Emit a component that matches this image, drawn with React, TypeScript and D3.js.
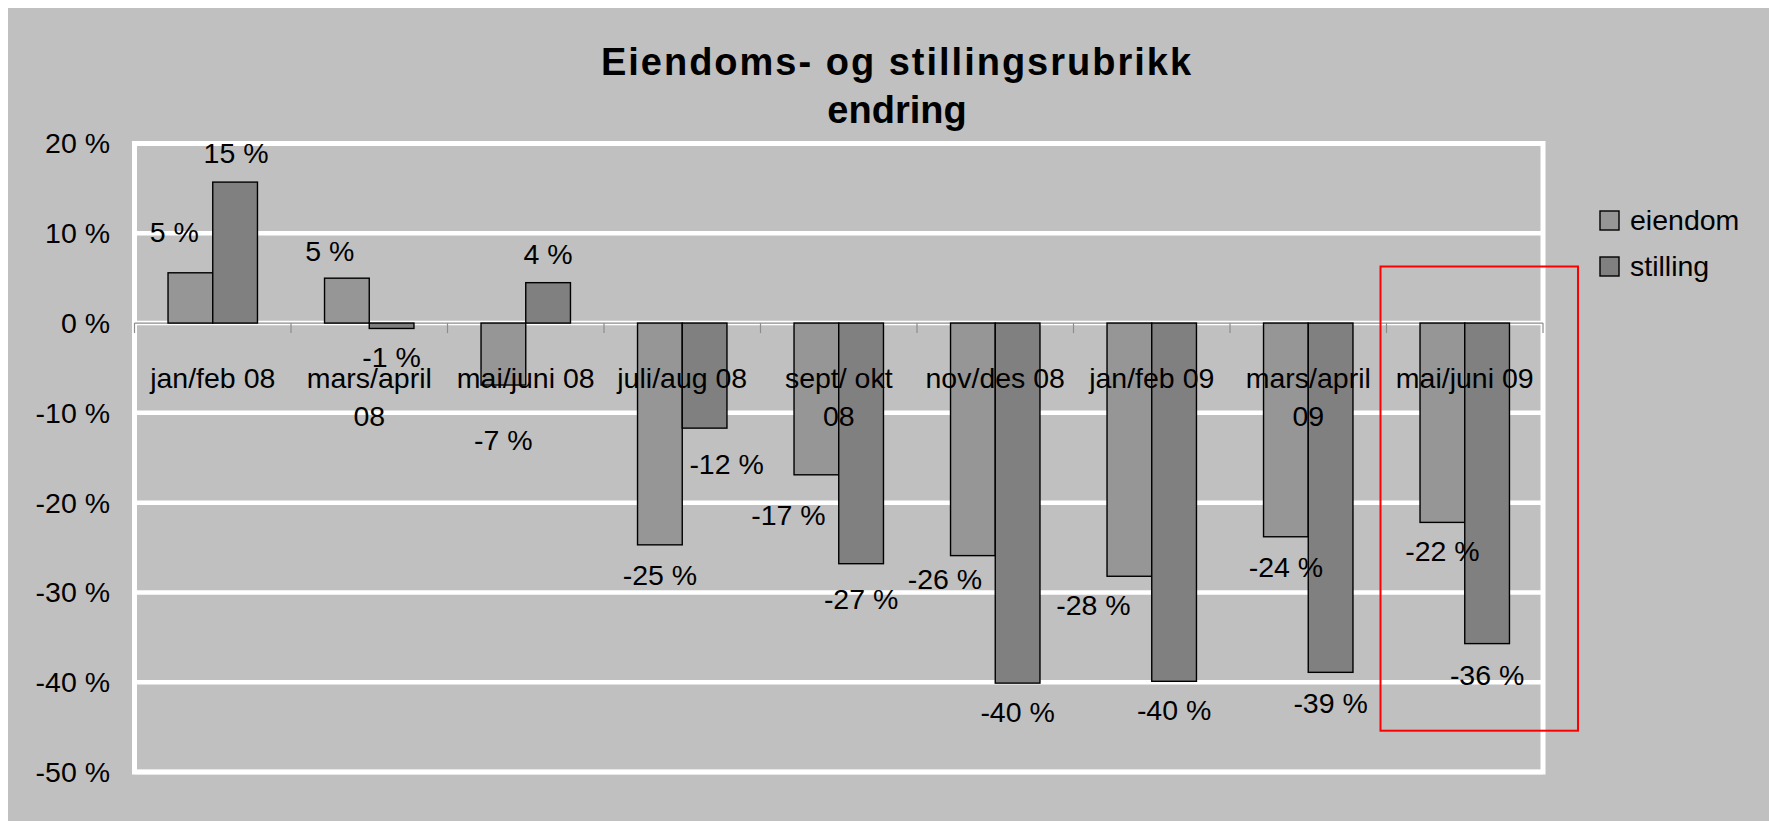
import React from "react";
import * as d3 from "d3";

const categories = [
  "jan/feb 08",
  "mars/april 08",
  "mai/juni 08",
  "juli/aug 08",
  "sept/ okt 08",
  "nov/des 08",
  "jan/feb 09",
  "mars/april 09",
  "mai/juni 09",
];
const seriesNames = ["eiendom", "stilling"];
const eiendom = [5.6, 5.0, -6.9, -24.7, -16.9, -25.9, -28.2, -23.8, -22.2];
const stilling = [15.7, -0.6, 4.5, -11.7, -26.8, -40.1, -39.9, -38.9, -35.7];
const eiendomLabels = ["5 %", "5 %", "-7 %", "-25 %", "-17 %", "-26 %", "-28 %", "-24 %", "-22 %"];
const stillingLabels = ["15 %", "-1 %", "4 %", "-12 %", "-27 %", "-40 %", "-40 %", "-39 %", "-36 %"];
const yTicks = [20, 10, 0, -10, -20, -30, -40, -50];

// hand-moved data labels in the original: [dx, extra distance from bar end]
const eiendomNudge = [[-16, 12], [-17, -2], [0, 26], [0, 1], [-28, 11], [-28, -6], [-36, 0], [0, 1], [0, 0]];
const stillingNudge = [[1, 0], [0, 0], [0, 0], [22, 7], [0, 6], [0, 0], [0, 0], [0, 2], [0, 2]];

const FONT = "'Liberation Sans', Arial, sans-serif";
const colors = ["#969696", "#808080"];

const W = 1769;
const H = 821;
const plot = { left: 134.5, right: 1543, top: 143.5, bottom: 772 };

function wrapLabel(text: string, maxWidth: number, font: string): string[] {
  const ctx = document.createElement("canvas").getContext("2d");
  if (!ctx) return [text];
  ctx.font = font;
  if (ctx.measureText(text).width <= maxWidth) return [text];
  const i = text.lastIndexOf(" ");
  if (i < 0) return [text];
  return [text.slice(0, i), text.slice(i + 1)];
}

export default function App(): JSX.Element {
  const x = d3.scaleBand<string>().domain(categories).range([plot.left, plot.right]).padding(0);
  const y = d3.scaleLinear().domain([-50, 20]).range([plot.bottom, plot.top]);
  const bw = x.bandwidth() / 3.5;
  const inner = d3.scaleBand<string>().domain(seriesNames).range([0, 2 * bw]);
  const offset = (x.bandwidth() - 2 * bw) / 2;

  const series = [
    { name: "eiendom", values: eiendom, labels: eiendomLabels, nudge: eiendomNudge },
    { name: "stilling", values: stilling, labels: stillingLabels, nudge: stillingNudge },
  ];

  const labelDist = 29;
  const y0 = y(0);

  // highlight box around the last period
  const last = categories[categories.length - 1];
  const boxX0 = (x(last) as number) - 6;
  const boxX1 = (x(last) as number) + x.bandwidth() + 35;
  const boxY0 = y(6.3);
  const boxY1 = y(-45.4);

  return (
    <div style={{ position: "absolute", left: 0, top: 0 }}>
      <svg width={W} height={H} style={{ display: "block" }} fontFamily={FONT}>
        <rect x={0} y={0} width={W} height={H} fill="#ffffff" />
        <rect x={8} y={8} width={W - 8} height={H - 8} fill="#c0c0c0" />

        {/* title */}
        <text x={897} y={75} textAnchor="middle" fontSize={38} fontWeight="bold" letterSpacing={2}>
          Eiendoms- og stillingsrubrikk
        </text>
        <text x={897} y={123} textAnchor="middle" fontSize={38} fontWeight="bold">
          endring
        </text>

        {/* gridlines */}
        {yTicks.map((t) => (
          <line key={t} x1={plot.left} x2={plot.right} y1={y(t)} y2={y(t)} stroke="#ffffff" strokeWidth={4.5} />
        ))}
        <rect
          x={plot.left}
          y={plot.top}
          width={plot.right - plot.left}
          height={plot.bottom - plot.top}
          fill="none"
          stroke="#ffffff"
          strokeWidth={5}
        />

        {/* y axis labels */}
        {yTicks.map((t) => (
          <text key={t} x={110} y={y(t)} dy="0.35em" textAnchor="end" fontSize={28.5} fill="#000">
            {`${t} %`}
          </text>
        ))}

        {/* zero axis with ticks */}
        <line x1={plot.left} x2={plot.right} y1={y0} y2={y0} stroke="#8c8c8c" strokeWidth={1.2} />
        {[...categories.map((c) => x(c) as number), plot.right].map((px, i) => (
          <line key={i} x1={px} x2={px} y1={y0} y2={y0 + 10} stroke="#8c8c8c" strokeWidth={1.2} />
        ))}

        {/* bars */}
        {series.map((s, si) =>
          s.values.map((v, i) => {
            const bx = (x(categories[i]) as number) + offset + (inner(s.name) as number);
            const top = Math.min(y(v), y0);
            const h = Math.abs(y(v) - y0);
            return (
              <rect
                key={`${s.name}-${i}`}
                x={bx}
                y={top}
                width={bw}
                height={h}
                fill={colors[si]}
                stroke="#000"
                strokeWidth={1.4}
              />
            );
          })
        )}

        {/* category labels */}
        {categories.map((c) => {
          const lines = wrapLabel(c, 144, `28.5px ${FONT}`);
          const cx = (x(c) as number) + x.bandwidth() / 2;
          return (
            <text key={c} x={cx} y={388} textAnchor="middle" fontSize={28.5} fill="#000">
              {lines.map((l, li) => (
                <tspan key={li} x={cx} y={388 + li * 38}>
                  {l}
                </tspan>
              ))}
            </text>
          );
        })}

        {/* data labels */}
        {series.map((s) =>
          s.values.map((v, i) => {
            const cx = (x(categories[i]) as number) + offset + (inner(s.name) as number) + bw / 2;
            const [dx, extra] = s.nudge[i];
            const dir = v >= 0 ? -1 : 1;
            const cy = y(v) + dir * (labelDist + extra);
            return (
              <text
                key={`${s.name}-l-${i}`}
                x={cx + dx}
                y={cy}
                dy="0.35em"
                textAnchor="middle"
                fontSize={28.5}
                fill="#000"
              >
                {s.labels[i]}
              </text>
            );
          })
        )}

        {/* legend */}
        {seriesNames.map((n, i) => (
          <g key={n} transform={`translate(1600, ${211 + i * 46})`}>
            <rect x={0} y={0} width={19} height={19} fill={colors[i]} stroke="#000" strokeWidth={1.4} />
            <text x={30} y={19} fontSize={28.5} fill="#000">
              {n}
            </text>
          </g>
        ))}

        {/* red highlight */}
        <rect
          x={boxX0}
          y={boxY0}
          width={boxX1 - boxX0}
          height={boxY1 - boxY0}
          fill="none"
          stroke="#ff0000"
          strokeWidth={2}
        />
      </svg>
    </div>
  );
}
